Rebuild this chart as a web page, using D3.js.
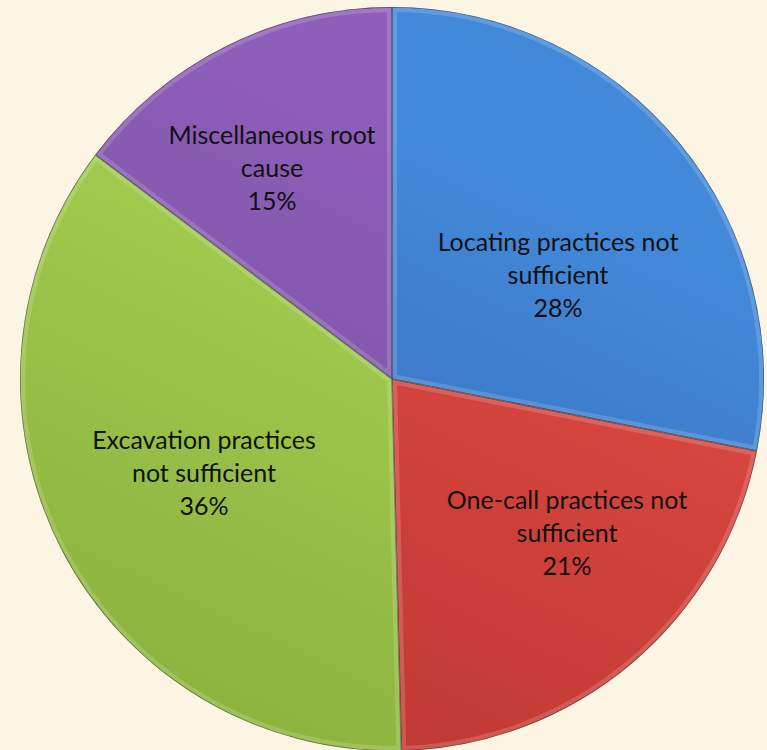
<!DOCTYPE html>
<html><head><meta charset="utf-8">
<script src="https://cdn.jsdelivr.net/npm/d3@7"></script>
<style>body{margin:0;background:#FDF5E4;} svg{display:block;}</style>
</head><body>
<script>
const categories = ["Locating practices not sufficient", "One-call practices not sufficient", "Excavation practices not sufficient", "Miscellaneous root cause"];
const values = [28.1, 21.5, 35.7, 14.7];
const percentLabels = ["28%", "21%", "36%", "15%"];
const labelLines = [["Locating practices not", "sufficient"], ["One-call practices not", "sufficient"], ["Excavation practices", "not sufficient"], ["Miscellaneous root", "cause"]];

const W = 767, H = 750, cx = 392, cy = 379, R = 372;
const colorsTop = ["#4389DA", "#DE4A43", "#A8D254", "#8E5FBA"];
const colorsBot = ["#2E5EA3", "#B5322E", "#84AA38", "#684990"];
const labelPos = [[558, 242], [567, 500], [204, 440], [272, 135]];

const svg = d3.select("body").append("svg").attr("width", W).attr("height", H);
svg.append("rect").attr("width", W).attr("height", H).attr("fill", "#FDF5E4");
const defs = svg.append("defs");
categories.forEach((c, i) => {
  const g = defs.append("linearGradient").attr("id", "g" + i)
    .attr("gradientUnits", "userSpaceOnUse")
    .attr("x1", cx + 200).attr("y1", cy - R).attr("x2", cx - 150).attr("y2", cy + R);
  g.append("stop").attr("offset", "0%").attr("stop-color", colorsTop[i]);
  g.append("stop").attr("offset", "100%").attr("stop-color", colorsBot[i]);
});

const pie = d3.pie().sort(null).value(d => d)(values);
const arc = d3.arc().innerRadius(0).outerRadius(R);
const root = svg.append("g").attr("transform", `translate(${cx},${cy})`);

pie.forEach((d, i) => {
  defs.append("clipPath").attr("id", "c" + i).append("path").attr("d", arc(d));
});
root.selectAll("path.slice").data(pie).join("path").attr("class", "slice")
  .attr("d", arc).attr("fill", (d, i) => `url(#g${i})`);
root.selectAll("path.hl").data(pie).join("path").attr("class", "hl")
  .attr("d", arc).attr("fill", "none").attr("stroke", "#fff").attr("stroke-opacity", 0.16)
  .attr("stroke-width", 10).attr("clip-path", (d, i) => `url(#c${i})`);
root.selectAll("path.edge").data(pie).join("path").attr("class", "edge")
  .attr("d", arc).attr("fill", "none").attr("stroke", "#000").attr("stroke-opacity", 0.4)
  .attr("stroke-width", 1.5).attr("clip-path", (d, i) => `url(#c${i})`);

const lh = 33;
categories.forEach((c, i) => {
  const lines = labelLines[i].concat([percentLabels[i]]);
  const t = svg.append("text").attr("text-anchor", "middle")
    .attr("font-family", "Lato, 'Open Sans', sans-serif").attr("font-size", 25).attr("fill", "#111");
  lines.forEach((l, j) => {
    t.append("tspan").attr("x", labelPos[i][0]).attr("y", labelPos[i][1] + j * lh).attr("dy", "0.35em").text(l);
  });
});
</script>
</body></html>
